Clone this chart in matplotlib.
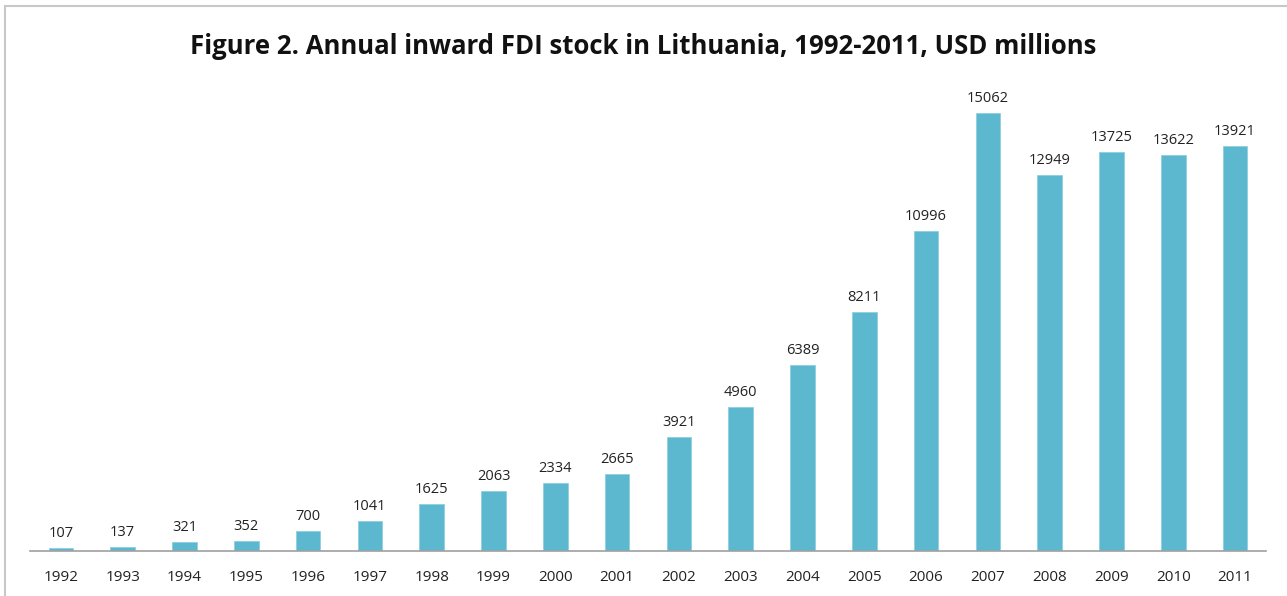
import matplotlib.pyplot as plt
from matplotlib.patches import Rectangle

years = [str(y) for y in range(1992, 2012)]
fdi_stock = [107, 137, 321, 352, 700, 1041, 1625, 2063, 2334, 2665,
             3921, 4960, 6389, 8211, 10996, 15062, 12949, 13725, 13622, 13921]

plt.rcParams['font.family'] = ['Open Sans', 'DejaVu Sans']

fig = plt.figure(figsize=(12.87, 5.96), dpi=100)
ax = fig.add_axes([30 / 1287, 45 / 596, 1236 / 1287, 465 / 596])

x = range(len(years))
bars = ax.bar(x, fdi_stock, width=0.4, color='#5BB8CF', edgecolor='#8FD0E0', linewidth=0.6)

for xi, v in zip(x, fdi_stock):
    ax.annotate(str(v), (xi, v), xytext=(0, 5), textcoords='offset points',
                ha='center', va='bottom', fontsize=10.5, color='#222222')

ax.set_xlim(-0.5, len(years) - 0.5)
ax.set_ylim(0, 16000)
ax.set_xticks(list(x))
ax.set_xticklabels(years, fontsize=11, color='#222222')
ax.set_yticks([])
ax.tick_params(axis='x', length=0, pad=14)
for side in ['top', 'right', 'left']:
    ax.spines[side].set_visible(False)
ax.spines['bottom'].set_color('#A0A0A0')
ax.spines['bottom'].set_linewidth(1.2)

fig.text(0.5, 1 - 46 / 596, 'Figure 2. Annual inward FDI stock in Lithuania, 1992-2011, USD millions',
         ha='center', va='center', fontsize=18.5, fontweight='bold', color='#111111')

# light frame around the chart area
fig.patches.append(Rectangle((5 / 1287, -0.1), 1.2, 1.1 - 6 / 596, transform=fig.transFigure,
                             fill=False, edgecolor='#C8C8C8', linewidth=1.5))

fig.savefig('out.png', dpi=100)
